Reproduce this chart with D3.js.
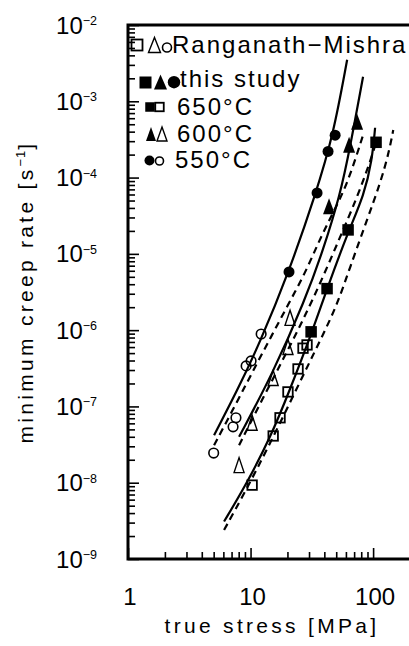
<!DOCTYPE html>
<html>
<head>
<meta charset="utf-8">
<script src="https://cdn.jsdelivr.net/npm/d3@7"></script>
<style>
  body { margin: 0; background: #fff; }
  text { font-family: "Liberation Sans", Arial, sans-serif; fill: #000; }
</style>
</head>
<body>
<svg id="chart" width="409" height="646"></svg>
<script>

// Measured points, this study (filled symbols)
var sq650Stress = [31.2, 42.1, 62.5, 105.7];
var sq650Rate = [9.5e-7, 3.5e-6, 2.06e-5, 2.9e-4];
var tri600Stress = [43.7, 63.7, 74.0];
var tri600Rate = [4.2e-5, 2.7e-4, 5.4e-4];
var circ550Stress = [20.6, 34.9, 42.9, 49.0];
var circ550Rate = [5.8e-6, 6.3e-5, 2.2e-4, 3.6e-4];

// Ranganath-Mishra points (open symbols)
var rmSq650Stress = [10.3, 15.3, 17.4, 20.2, 24.4, 26.8, 28.9];
var rmSq650Rate = [9.3e-9, 4.1e-8, 7.1e-8, 1.55e-7, 3.1e-7, 5.8e-7, 6.4e-7];
var rmTri600Stress = [8.06, 10.3, 15.3, 20.2, 21.0];
var rmTri600Rate = [1.7e-8, 6.1e-8, 2.36e-7, 6.0e-7, 1.45e-6];
var rmCirc550Stress = [5.0, 7.2, 7.6, 9.2, 10.1, 12.2];
var rmCirc550Rate = [2.45e-8, 5.4e-8, 7.1e-8, 3.4e-7, 3.95e-7, 8.9e-7];

// Fitted curves, this study (solid)
var fit550Stress = [5.04, 7.76, 11.7, 20.6, 34.2, 47.1, 61.4];
var fit550Rate = [4.2e-8, 1.6e-7, 6.4e-7, 5.8e-6, 6.3e-5, 3.5e-4, 3.5e-3];
var fit600Stress = [8.06, 15.0, 27.9, 39.1, 53.8, 64.9, 82.8];
var fit600Rate = [4.0e-8, 2.6e-7, 2.5e-6, 1.12e-5, 5.9e-5, 2.5e-4, 2.1e-3];
var fit650Stress = [6.08, 9.19, 14.7, 20.6, 31.2, 42.1, 62.5, 84.5, 98.1, 103.8];
var fit650Rate = [3.1e-9, 9.4e-9, 4.1e-8, 1.55e-7, 8.7e-7, 3.5e-6, 1.94e-5, 5.9e-5, 1.7e-4, 4.5e-4];

// Fitted curves, Ranganath-Mishra (dashed)
var rmFit550Stress = [5.04, 7.91, 10.9, 15.0, 20.2, 27.9, 35.6, 46.3, 61.4, 82.8];
var rmFit550Rate = [3.1e-8, 1.22e-7, 3.3e-7, 8.7e-7, 2.14e-6, 5.6e-6, 1.39e-5, 3.3e-5, 8.0e-5, 3.6e-4];
var rmFit600Stress = [8.06, 12.4, 20.2, 32.4, 53.8, 72.6, 94.6, 105.7];
var rmFit600Rate = [3.1e-8, 1.22e-7, 5.5e-7, 2.5e-6, 1.66e-5, 5.1e-5, 1.6e-4, 2.9e-4];
var rmFit650Stress = [6.08, 9.19, 13.9, 23.1, 38.3, 50.8, 64.9, 89.3, 116, 135, 146];
var rmFit650Rate = [2.4e-9, 8.0e-9, 2.9e-8, 1.55e-7, 8.2e-7, 2.14e-6, 6.7e-6, 2.8e-5, 9.0e-5, 2.2e-4, 4.2e-4];

// Tick labels
var yExponents = [-2, -3, -4, -5, -6, -7, -8, -9];
var xTickLabels = [1, 10, 100];

var svg = d3.select("#chart");

var x = d3.scaleLog().domain([1, 200]).range([128, 410]);
var y = d3.scaleLog().domain([1e-9, 1e-2]).range([559, 25]);

function isDecade(v) {
  var l = Math.log10(v);
  return Math.abs(l - Math.round(l)) < 1e-6;
}

// Axes: ticks point inwards, decades longer
var yMinor = y.ticks().filter(function (d) { return !isDecade(d) });
var yMajor = y.ticks().filter(function (d) { return isDecade(d) });
var xMinor = x.ticks().filter(function (d) { return !isDecade(d) });
var xMajor = x.ticks().filter(function (d) { return isDecade(d) });

function drawAxis(g) {
  g.selectAll("text").remove();
  g.select(".domain").remove();
  g.selectAll("line").attr("stroke", "#000").attr("stroke-width", 1.6);
}

svg.append("g").attr("transform", "translate(128,0)")
  .call(d3.axisLeft(y).tickValues(yMinor).tickSize(-7).tickFormat(""))
  .call(drawAxis);
svg.append("g").attr("transform", "translate(128,0)")
  .call(d3.axisLeft(y).tickValues(yMajor).tickSize(-11).tickFormat(""))
  .call(drawAxis);
svg.append("g").attr("transform", "translate(0,559)")
  .call(d3.axisBottom(x).tickValues(xMinor).tickSize(-7).tickFormat(""))
  .call(drawAxis);
svg.append("g").attr("transform", "translate(0,559)")
  .call(d3.axisBottom(x).tickValues(xMajor).tickSize(-11).tickFormat(""))
  .call(drawAxis);

// Frame (left, top, bottom)
svg.append("path")
  .attr("d", "M" + x.range()[1] + "," + y.range()[1] + "H" + x.range()[0] +
    "V" + y.range()[0] + "H" + x.range()[1])
  .attr("fill", "none")
  .attr("stroke", "#000")
  .attr("stroke-width", 3)
  .attr("stroke-linecap", "square");

// Y tick labels 10^n
var ylab = svg.append("g").selectAll("text")
  .data(yExponents)
  .enter()
  .append("text")
  .attr("x", 97)
  .attr("y", function (d) { return y(Math.pow(10, d)) + 8.5 })
  .attr("text-anchor", "end")
  .style("font-size", "24px");
ylab.append("tspan").text("10");
ylab.append("tspan")
  .attr("dy", -8.5)
  .style("font-size", "12.5px")
  .text(function (d) { return "\u2212" + Math.abs(d) });

svg.append("g").selectAll("text")
  .data(xTickLabels)
  .enter()
  .append("text")
  .attr("x", function (d) { return x(d) + 2 })
  .attr("y", 605)
  .attr("text-anchor", "middle")
  .style("font-size", "24px")
  .text(function (d) { return d });

// Axis titles
svg.append("text")
  .attr("x", 272)
  .attr("y", 633)
  .attr("text-anchor", "middle")
  .style("font-size", "21px")
  .style("letter-spacing", "3.3px")
  .text("true stress [MPa]");

var ytitle = svg.append("text")
  .attr("transform", "translate(33,292) rotate(-90)")
  .attr("text-anchor", "middle")
  .style("font-size", "21px")
  .style("letter-spacing", "3.3px");
ytitle.append("tspan").text("minimum creep rate [s");
ytitle.append("tspan").attr("dy", -8).style("font-size", "13px").style("letter-spacing", "1px").text("\u22121");
ytitle.append("tspan").attr("dy", 8).text("]");

// Curves
var line = d3.line()
  .x(function (d) { return x(d[0]) })
  .y(function (d) { return y(d[1]) })
  .curve(d3.curveBasis);

var curves = [
  [fit550Stress, fit550Rate, false],
  [fit600Stress, fit600Rate, false],
  [fit650Stress, fit650Rate, false],
  [rmFit550Stress, rmFit550Rate, true],
  [rmFit600Stress, rmFit600Rate, true],
  [rmFit650Stress, rmFit650Rate, true]
];

svg.append("g").selectAll("path")
  .data(curves)
  .enter()
  .append("path")
  .attr("d", function (c) { return line(d3.zip(c[0], c[1])) })
  .attr("fill", "none")
  .attr("stroke", "#000")
  .attr("stroke-width", 2.2)
  .attr("stroke-dasharray", function (c) { return c[2] ? "7,5" : null });

// Symbols
function triPath(cx, cy, w, h) {
  return "M" + cx + "," + (cy - h / 2) + "L" + (cx + w / 2) + "," + (cy + h / 2) +
    "L" + (cx - w / 2) + "," + (cy + h / 2) + "Z";
}

function square(g, cx, cy, s, filled) {
  g.append("rect")
    .attr("x", cx - s / 2).attr("y", cy - s / 2)
    .attr("width", s).attr("height", s)
    .attr("fill", filled ? "#000" : "none")
    .attr("stroke", "#000")
    .attr("stroke-width", filled ? 0 : 1.8);
}

function circle(g, cx, cy, r, filled) {
  g.append("circle")
    .attr("cx", cx).attr("cy", cy).attr("r", r)
    .attr("fill", filled ? "#000" : "none")
    .attr("stroke", "#000")
    .attr("stroke-width", filled ? 0 : 1.6);
}

function triangle(g, cx, cy, w, h, filled) {
  g.append("path")
    .attr("d", triPath(cx, cy, w, h))
    .attr("fill", filled ? "#000" : "none")
    .attr("stroke", "#000")
    .attr("stroke-width", filled ? 0 : 1.4)
    .attr("stroke-linejoin", "miter");
}

var marks = svg.append("g");

d3.zip(rmSq650Stress, rmSq650Rate).forEach(function (d) { square(marks, x(d[0]), y(d[1]), 9.5, false) });
d3.zip(rmTri600Stress, rmTri600Rate).forEach(function (d) { triangle(marks, x(d[0]), y(d[1]), 10, 15, false) });
d3.zip(rmCirc550Stress, rmCirc550Rate).forEach(function (d) { circle(marks, x(d[0]), y(d[1]), 4.8, false) });
d3.zip(sq650Stress, sq650Rate).forEach(function (d) { square(marks, x(d[0]), y(d[1]), 11.5, true) });
d3.zip(tri600Stress, tri600Rate).forEach(function (d) { triangle(marks, x(d[0]), y(d[1]), 12, 16, true) });
d3.zip(circ550Stress, circ550Rate).forEach(function (d) { circle(marks, x(d[0]), y(d[1]), 5.5, true) });

// Legend
var legend = svg.append("g").attr("class", "legend");

square(legend, 137, 45, 11, false);
triangle(legend, 154.5, 45, 12, 15, false);
circle(legend, 167, 47.5, 4.5, false);
square(legend, 145.5, 82.5, 12, true);
triangle(legend, 160.5, 82, 13, 15, true);
circle(legend, 174, 82.2, 6.2, true);
square(legend, 150, 107, 9.5, true);
square(legend, 159.5, 107, 8.5, false);
triangle(legend, 151, 134, 10, 14, true);
triangle(legend, 162, 134, 10, 14, false);
circle(legend, 149.5, 160.5, 5, true);
circle(legend, 159.5, 161, 4, false);

var legendText = [
  ["Ranganath\u2212Mishra", 172, 53],
  ["this study", 180, 87],
  ["650\u00b0C", 177, 115],
  ["600\u00b0C", 177, 142],
  ["550\u00b0C", 175, 168]
];

legend.selectAll("text")
  .data(legendText)
  .enter()
  .append("text")
  .attr("x", function (d) { return d[1] })
  .attr("y", function (d) { return d[2] })
  .style("font-size", "24px")
  .style("letter-spacing", "2px")
  .text(function (d) { return d[0] });

</script>
</body>
</html>
